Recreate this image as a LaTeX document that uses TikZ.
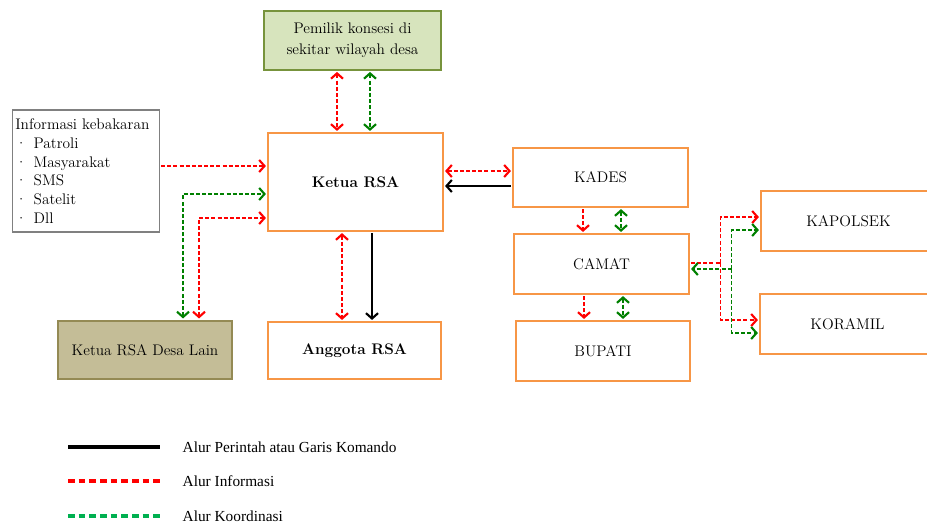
\documentclass[tikz,border=0pt]{standalone}
\usepackage{fontspec}
\usepackage{tikz}
\usetikzlibrary{arrows.meta,calc,shadows}
\newfontfamily\legendfont{Liberation Serif}
\definecolor{boxorange}{HTML}{F79646}
\definecolor{concfill}{HTML}{D7E4BD}
\definecolor{concline}{HTML}{77933C}
\definecolor{lainfill}{HTML}{C4BD97}
\definecolor{lainline}{HTML}{948A54}
\definecolor{infored}{HTML}{FF0000}
\definecolor{koorgreen}{HTML}{008000}
\definecolor{leggreen}{HTML}{00B050}

\begin{document}
\begin{tikzpicture}[x=0.75pt,y=0.75pt,>={Straight Barb[length=4pt,width=9pt,line width=1.6pt]},
                    every node/.style={font=\fontsize{11.5}{14}\selectfont},
                    unit/.style={draw=boxorange,line width=1.1pt,fill=white,
                      drop shadow={shadow xshift=1pt,shadow yshift=-1pt,opacity=0.25},
                      minimum width=131.25pt,minimum height=44.25pt,inner sep=0pt},
                    info/.style={infored,line width=0.8pt,dash pattern=on 3pt off 1.6pt,shorten >=1pt,shorten <=1pt},
                    koor/.style={koorgreen,line width=0.8pt,dash pattern=on 3pt off 1.6pt,shorten >=1pt,shorten <=1pt},
                    perintah/.style={black,line width=0.9pt,shorten >=1pt,shorten <=1pt},
                    legtext/.style={anchor=west,font=\legendfont\fontsize{11.5}{14}\selectfont}]
  \useasboundingbox (0,0) rectangle (927,-525);

  \node[unit,minimum height=73.5pt,font=\bfseries\fontsize{11.5}{14}\selectfont] (ketua) at (355.5,-182) {Ketua RSA};
  \node[draw=concline,fill=concfill,line width=0.9pt,minimum width=132.75pt,minimum height=44.25pt,align=center,
        font=\fontsize{11.5}{15.5}\selectfont] (konsesi) at (352.5,-40.5) {Pemilik konsesi di\\sekitar wilayah desa};
  \node[draw=gray,line width=0.8pt,text width=106pt,minimum height=91.5pt,inner sep=2pt,align=left,
        font=\fontsize{11.5}{14}\selectfont] (kebakaran) at (86,-171)
        {Informasi kebakaran\\
         \textperiodcentered\hspace{5pt}Patroli\\
         \textperiodcentered\hspace{5pt}Masyarakat\\
         \textperiodcentered\hspace{5pt}SMS\\
         \textperiodcentered\hspace{5pt}Satelit\\
         \textperiodcentered\hspace{5pt}Dll};
  \node[draw=lainline,fill=lainfill,line width=1.8pt,minimum width=130.5pt,minimum height=43.5pt] (desalain) at (145,-350) {Ketua RSA Desa Lain};
  \node[unit,minimum width=129.75pt,minimum height=42.75pt,font=\bfseries\fontsize{11.5}{14}\selectfont] (anggota) at (354.5,-350.5) {Anggota RSA};
  \node[unit] (kades)    at (600.5,-177.5) {KADES};
  \node[unit,minimum height=45pt] (camat)    at (601.5,-264) {CAMAT};
  \node[unit,minimum width=130.5pt,minimum height=45pt] (bupati)   at (603,-351) {BUPATI};
  \node[unit,minimum height=45pt] (kapolsek) at (848.5,-221) {KAPOLSEK};
  \node[unit,minimum height=45pt] (koramil)  at (847.5,-324) {KORAMIL};

  % konsesi - ketua
  \draw[info,<->] ($(konsesi.south)+(-15.5,0)$) -- ($(ketua.north)+(-18.5,0)$);
  \draw[koor,<->] ($(konsesi.south)+(17.5,0)$) -- ($(ketua.north)+(14.5,0)$);

  % informasi kebakaran, desa lain
  \draw[info,->] ($(kebakaran.east)+(0,5)$) -- ($(ketua.west)+(0,16)$);
  \draw[koor,<->] ($(desalain.north)+(38,0)$) |- ($(ketua.west)+(0,-12)$);
  \draw[info,<->] ($(desalain.north)+(54,0)$) |- ($(ketua.west)+(0,-36)$);

  % ketua - kades, anggota
  \draw[info,<->] ($(ketua.east)+(0,11)$) -- ($(kades.west)+(0,6.5)$);
  \draw[perintah,->] ($(kades.west)+(0,-8.5)$) -- ($(ketua.east)+(0,-4)$);
  \draw[perintah,->] ($(ketua.south)+(16.5,0)$) -- ($(anggota.north)+(17.5,0)$);
  \draw[info,<->] ($(ketua.south)+(-13.5,0)$) -- ($(anggota.north)+(-12.5,0)$);

  % kades - camat - bupati
  \draw[info,->] ($(kades.south)+(-17.5,0)$) -- ($(camat.north)+(-18.5,0)$);
  \draw[koor,<->,line width=1.1pt] ($(kades.south)+(20.5,0)$) -- ($(camat.north)+(19.5,0)$);
  \draw[info,->] ($(camat.south)+(-17.5,0)$) -- ($(bupati.north)+(-19,0)$);
  \draw[koor,<->,line width=1.1pt] ($(camat.south)+(21.5,0)$) -- ($(bupati.north)+(20,0)$);

  % camat - kapolsek, koramil
  \coordinate (infosplit) at ($(camat.east)+(31,1)$);
  \coordinate (koorsplit) at ($(camat.east)+(42,-5)$);
  \draw[info,shorten >=0pt] ($(camat.east)+(0,1)$) -- (infosplit);
  \draw[info,->,shorten <=0pt] (infosplit) |- ($(kapolsek.west)+(0,4)$);
  \draw[info,->,shorten <=0pt] (infosplit) |- ($(koramil.west)+(0,4)$);
  \draw[koor,->,shorten <=0pt] (koorsplit) -- ($(camat.east)+(0,-5)$);
  \draw[koor,->,shorten <=0pt] (koorsplit) |- ($(kapolsek.west)+(0,-9)$);
  \draw[koor,->,shorten <=0pt] (koorsplit) |- ($(koramil.west)+(0,-9)$);

  % legenda
  \node[legtext] (legperintah) at (178,-447) {Alur Perintah atau Garis Komando};
  \node[legtext] (leginfo)     at (178,-481) {Alur Informasi};
  \node[legtext] (legkoor)     at (178,-516) {Alur Koordinasi};
  \draw[black,line width=2.5pt] ($(legperintah.west)+(-110,0)$) -- ++(92,0);
  \draw[infored,line width=2.5pt,dash pattern=on 5pt off 3pt] ($(leginfo.west)+(-110,0)$) -- ++(92,0);
  \draw[leggreen,line width=2.5pt,dash pattern=on 5pt off 3pt] ($(legkoor.west)+(-110,0)$) -- ++(92,0);
\end{tikzpicture}
\end{document}
